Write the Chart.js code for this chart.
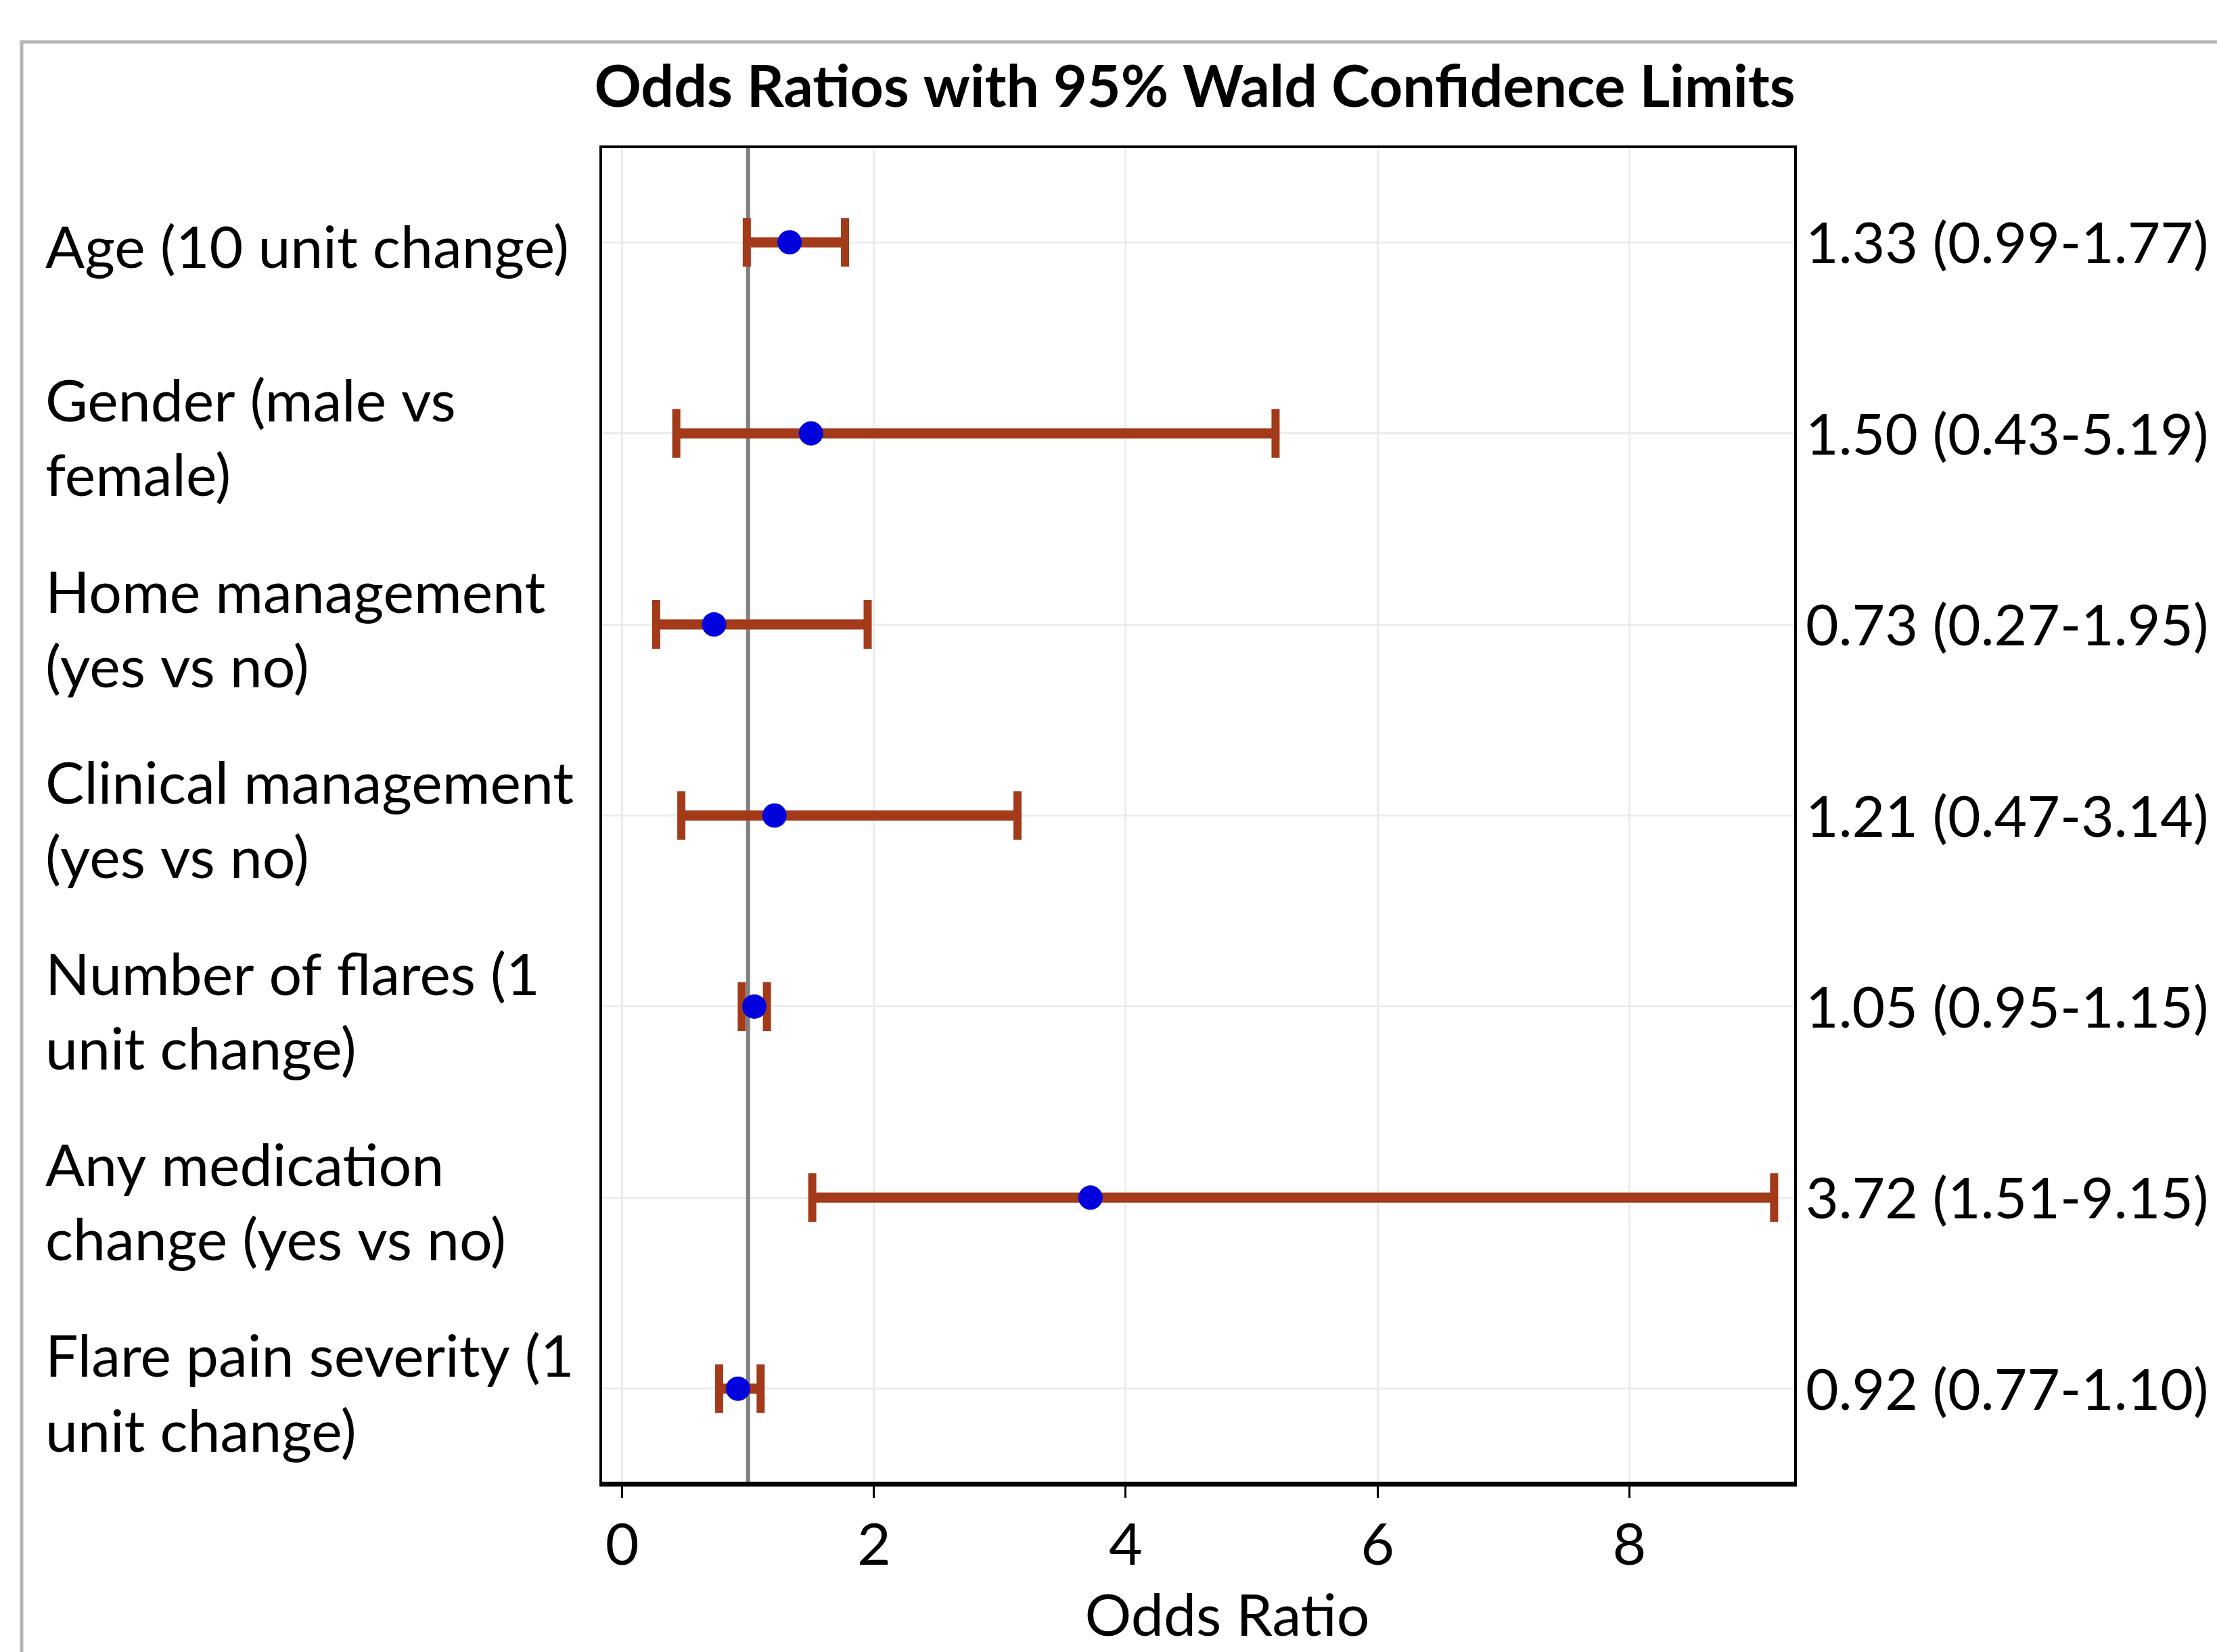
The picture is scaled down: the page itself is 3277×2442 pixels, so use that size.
<!DOCTYPE html>
<html>
<head>
<meta charset="utf-8">
<script src="https://cdn.jsdelivr.net/npm/chart.js@4.4.1/dist/chart.umd.min.js"></script>
<style>
 html,body{margin:0;padding:0;background:#fff;}
 #wrap{width:3277px;height:2442px;}
</style>
</head>
<body>
<div id="wrap"><canvas id="chart" width="3277" height="2442"></canvas></div>
<script>
// effects, one row each, top to bottom
const cats = [
 ["Age (10 unit change)"],
 ["Gender (male vs", "female)"],
 ["Home management", "(yes vs no)"],
 ["Clinical management", "(yes vs no)"],
 ["Number of flares (1", "unit change)"],
 ["Any medication", "change (yes vs no)"],
 ["Flare pain severity (1", "unit change)"]
];
const oddsRatio = [1.33, 1.50, 0.73, 1.21, 1.05, 3.72, 0.92];
const lower = [0.99, 0.43, 0.27, 0.47, 0.95, 1.51, 0.77];
const upper = [1.77, 5.19, 1.95, 3.14, 1.15, 9.15, 1.10];
const rightText = [
 "1.33 (0.99-1.77)", "1.50 (0.43-5.19)", "0.73 (0.27-1.95)", "1.21 (0.47-3.14)",
 "1.05 (0.95-1.15)", "3.72 (1.51-9.15)", "0.92 (0.77-1.10)"
];
const xTicks = [0, 2, 4, 6, 8];
const refValue = 1;
const chartTitle = "Odds Ratios with 95% Wald Confidence Limits";
const xTitle = "Odds Ratio";

const FONT = "Lato";
const keys = cats.map(c => c.join(" "));

// error bar segments, broken between rows
let ciData = [];
keys.forEach((k, i) => {
 ciData.push({x: lower[i], y: k});
 ciData.push({x: upper[i], y: k});
 ciData.push({x: null, y: k});
});
const dots = keys.map((k, i) => ({x: oddsRatio[i], y: k}));

const framePlugin = {
 id: "frame",
 beforeDraw(c){
  const ctx = c.ctx;
  ctx.save();
  ctx.fillStyle = "#fff";
  ctx.fillRect(0, 0, c.width, c.height);
  ctx.strokeStyle = "#b4b4b4";
  ctx.lineWidth = 5;
  ctx.strokeRect(32, 62, c.width + 50, c.height + 50);
  ctx.restore();
 },
 beforeDatasetsDraw(c){
  const ctx = c.ctx, a = c.chartArea;
  const px = c.scales.x.getPixelForValue(refValue);
  ctx.save();
  ctx.strokeStyle = "#808080";
  ctx.lineWidth = 6;
  ctx.beginPath();
  ctx.moveTo(px, a.top);
  ctx.lineTo(px, a.bottom);
  ctx.stroke();
  ctx.restore();
 },
 afterDraw(c){
  const ctx = c.ctx, a = c.chartArea;
  ctx.save();
  ctx.strokeStyle = "#000";
  ctx.lineWidth = 4;
  ctx.strokeRect(a.left, a.top, a.right - a.left, a.bottom - a.top);
  ctx.lineWidth = 7;
  ctx.beginPath();
  ctx.moveTo(a.left - 2, a.bottom);
  ctx.lineTo(a.right + 2, a.bottom);
  ctx.stroke();
  ctx.fillStyle = "#000";
  ctx.textAlign = "center";
  ctx.textBaseline = "middle";
  ctx.font = "bold 86px " + FONT;
  ctx.fillText(chartTitle, (a.left + a.right) / 2 - 5, 130);
  ctx.font = "86px " + FONT;
  ctx.fillText(xTitle, (a.left + a.right) / 2 + 43, 2390);
  ctx.restore();
 }
};

new Chart(document.getElementById("chart"), {
 type: "line",
 data: {
  datasets: [
   {
    data: dots,
    showLine: false,
    pointRadius: 18,
    pointBackgroundColor: "#0000dc",
    pointBorderWidth: 0,
    yAxisID: "y"
   },
   {
    data: ciData,
    borderColor: "#a33a1a",
    borderWidth: 15,
    borderCapStyle: "butt",
    spanGaps: false,
    pointStyle: "line",
    pointRotation: 90,
    pointRadius: 36,
    pointBorderWidth: 12,
    pointBorderColor: "#a33a1a",
    yAxisID: "y"
   }
  ]
 },
 options: {
  responsive: false,
  animation: false,
  devicePixelRatio: 1,
  layout: { padding: { left: 67, right: 0, top: 217, bottom: 0 } },
  plugins: { legend: { display: false }, tooltip: { enabled: false }, title: { display: false } },
  scales: {
   x: {
    type: "linear",
    min: -0.17,
    max: 9.32,
    afterBuildTicks: s => { s.ticks = xTicks.map(v => ({value: v})); },
    afterFit: s => { s.height = 248; },
    border: { display: false },
    grid: { color: "#ececec", lineWidth: 3, tickColor: "#000", tickLength: 20, tickWidth: 3 },
    ticks: { color: "#000", font: { family: FONT, size: 86 }, padding: 20, maxRotation: 0 },
    title: { display: false }
   },
   y: {
    type: "category",
    labels: keys,
    offset: true,
    position: "left",
    afterFit: s => { s.width = 821; },
    border: { display: false },
    grid: { color: "#ececec", lineWidth: 3, drawTicks: false },
    ticks: {
     color: "#000",
     crossAlign: "far",
     labelOffset: 10,
     font: { family: FONT, size: 86, lineHeight: 1.28 },
     callback: (v, i) => cats[i]
    }
   },
   y2: {
    type: "category",
    labels: rightText,
    offset: true,
    position: "right",
    afterFit: s => { s.width = 623; },
    border: { display: false },
    grid: { display: false, drawTicks: false },
    ticks: { color: "#000", crossAlign: "near", padding: 15, labelOffset: 4, font: { family: FONT, size: 84 } }
   }
  }
 },
 plugins: [framePlugin]
});
</script>
</body>
</html>
